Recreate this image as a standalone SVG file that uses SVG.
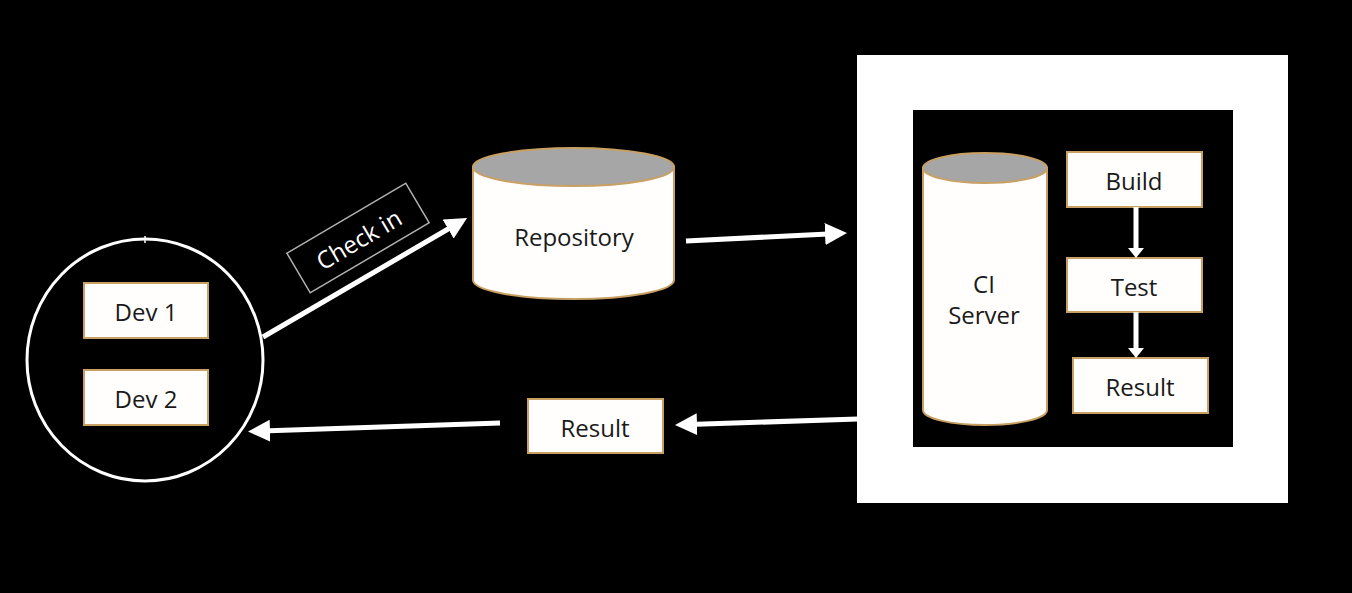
<svg xmlns="http://www.w3.org/2000/svg" width="1352" height="593" viewBox="0 0 1352 593">
<defs>
<style>
.box{fill:#fffefc;stroke:#c9a064;stroke-width:2}
.cyl{fill:#fffefc;stroke:#c9a064;stroke-width:2}
.cap{fill:#a6a6a6;stroke:#c9a064;stroke-width:2}
.lbl{font-family:"Open Sans","Liberation Sans",sans-serif;font-size:24px;font-weight:500;fill:#1a1a1a;text-anchor:middle;dominant-baseline:central}
.wl{font-family:"Open Sans","Liberation Sans",sans-serif;font-size:24px;font-weight:500;fill:#ffffff;text-anchor:middle;dominant-baseline:central}
.arr{stroke:#ffffff;stroke-width:5;fill:none;marker-end:url(#ah)}
.sarr{stroke:#ffffff;stroke-width:5;fill:none;marker-end:url(#ahs)}
</style>
<marker id="ah" viewBox="0 0 22 22" refX="8" refY="11" markerWidth="22" markerHeight="22" markerUnits="userSpaceOnUse" orient="auto">
<path d="M0,0 L22,11 L0,22 z" fill="#ffffff"/>
</marker>
<marker id="ahs" viewBox="0 0 10 16" refX="3" refY="8" markerWidth="10" markerHeight="16" markerUnits="userSpaceOnUse" orient="auto">
<path d="M0,0 L10,8 L0,16 z" fill="#ffffff"/>
</marker>
</defs>
<rect x="0" y="0" width="1352" height="593" fill="#000000"/>

<g id="developers">
<ellipse cx="145" cy="360" rx="118" ry="121" fill="none" stroke="#ffffff" stroke-width="3"/>
<line x1="145" y1="236" x2="145" y2="243" stroke="#ffffff" stroke-width="1.5"/>
</g>
<g id="dev1">
<rect class="box" x="84" y="283" width="124" height="55"/>
<text class="lbl" x="146" y="311">Dev 1</text>
</g>
<g id="dev2">
<rect class="box" x="84" y="370" width="124" height="55"/>
<text class="lbl" x="146" y="398">Dev 2</text>
</g>

<g id="checkin-label">
<g transform="translate(358,238) rotate(-30.5)">
<rect x="-69" y="-23" width="138" height="46" fill="none" stroke="#b0b0b0" stroke-width="1.5"/>
<text class="wl" x="0" y="1">Check in</text>
</g>
</g>

<g id="repository">
<path class="cyl" d="M473,167 L473,280 A100.5,19 0 0 0 674,280 L674,167 Z"/>
<ellipse class="cap" cx="573.5" cy="167" rx="100.5" ry="19"/>
<text class="lbl" x="574" y="236">Repository</text>
</g>

<g id="result-left">
<rect class="box" x="528" y="399" width="135" height="54"/>
<text class="lbl" x="595" y="427">Result</text>
</g>

<g id="ci-environment">
<rect x="857" y="55" width="431" height="448" fill="#ffffff"/>
<rect x="913" y="110" width="320" height="337" fill="#000000"/>
</g>

<g id="ci-server">
<path class="cyl" d="M923,168 L923,410 A62,15 0 0 0 1047,410 L1047,168 Z"/>
<ellipse class="cap" cx="985" cy="168" rx="62" ry="15"/>
<text class="lbl" x="984" y="283">CI</text>
<text class="lbl" x="984" y="314">Server</text>
</g>

<g id="build">
<rect class="box" x="1067" y="152" width="135" height="55"/>
<text class="lbl" x="1134" y="180">Build</text>
</g>
<g id="test">
<rect class="box" x="1067" y="258" width="135" height="54"/>
<text class="lbl" x="1134" y="286">Test</text>
</g>
<g id="result-ci">
<rect class="box" x="1073" y="358" width="135" height="55"/>
<text class="lbl" x="1140" y="386">Result</text>
</g>

<g id="connectors">
<line class="arr" x1="263" y1="337" x2="455" y2="225"/>
<line class="arr" x1="686" y1="241" x2="833" y2="233.7"/>
<line class="arr" x1="858" y1="419" x2="689" y2="424.5"/>
<line class="arr" x1="500" y1="423" x2="262" y2="431"/>
<line class="sarr" x1="1136" y1="207" x2="1136" y2="251"/>
<line class="sarr" x1="1136" y1="312" x2="1136" y2="351"/>
</g>
</svg>
